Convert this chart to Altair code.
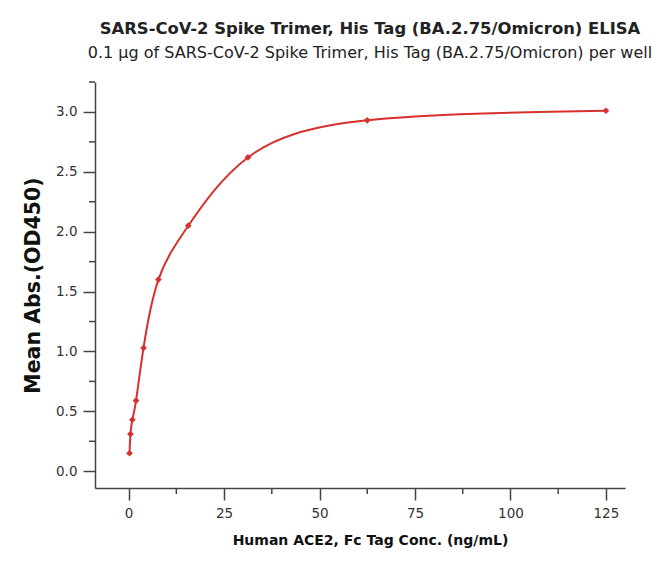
import altair as alt
import pandas as pd

conc = [0.24, 0.49, 0.98, 1.95, 3.91, 7.81, 15.63, 31.25, 62.5, 125]
od = [0.15, 0.31, 0.43, 0.59, 1.03, 1.60, 2.05, 2.62, 2.93, 3.01]
x_major = [0, 25, 50, 75, 100, 125]
x_minor = [12.5, 37.5, 62.5, 87.5, 112.5]
y_major = [0.0, 0.5, 1.0, 1.5, 2.0, 2.5, 3.0]
y_minor = [0.25, 0.75, 1.25, 1.75, 2.25, 2.75, 3.25]

W, H = 530, 406
df = pd.DataFrame({"conc": conc, "od": od})
xminor_df = pd.DataFrame({"v": x_minor})
yminor_df = pd.DataFrame({"v": y_minor})
red = "#d7312e"
FONT = "DejaVu Sans"
axis_col = "#444444"

x_scale = alt.Scale(domain=[-8.8, 130], nice=False, zero=False)
y_scale = alt.Scale(domain=[-0.14, 3.25], nice=False, zero=False)

x_enc = alt.X(
    "conc:Q",
    scale=x_scale,
    axis=alt.Axis(
        values=x_major,
        tickSize=12,
        title="Human ACE2, Fc Tag Conc. (ng/mL)",
        titleX=275,
        titlePadding=14,
        labelPadding=6,
        labelOverlap=False,
        labelFlush=False,
        grid=False,
    ),
)
y_enc = alt.Y(
    "od:Q",
    scale=y_scale,
    axis=alt.Axis(
        values=y_major,
        format=".1f",
        tickSize=12,
        title="Mean Abs.(OD450)",
        titlePadding=12,
        labelPadding=6,
        labelOverlap=False,
        labelFlush=False,
        grid=False,
    ),
)

line = alt.Chart(df).mark_line(interpolate="natural", color=red, strokeWidth=2).encode(x=x_enc, y=y_enc)
pts = alt.Chart(df).mark_point(shape="diamond", filled=True, size=45, color=red, opacity=1).encode(x="conc:Q", y="od:Q")

xminor = alt.Chart(xminor_df).mark_rule(color=axis_col, strokeWidth=1.5).encode(
    x=alt.X("v:Q", scale=x_scale), y=alt.value(H), y2=alt.value(H + 6)
)
yminor = alt.Chart(yminor_df).mark_rule(color=axis_col, strokeWidth=1.5).encode(
    y=alt.Y("v:Q", scale=y_scale), x=alt.value(0), x2=alt.value(-6)
)

chart = (
    alt.layer(line, pts, xminor, yminor)
    .properties(
        width=W,
        height=H,
        autosize=alt.AutoSizeParams(type="none"),
        padding={"left": 87, "top": 74, "right": 38, "bottom": 64},
        title=alt.TitleParams(
            text="SARS-CoV-2 Spike Trimer, His Tag (BA.2.75/Omicron) ELISA",
            subtitle="0.1 µg of SARS-CoV-2 Spike Trimer, His Tag (BA.2.75/Omicron) per well",
            font=FONT,
            fontSize=16.4,
            fontWeight="bold",
            color="#222222",
            subtitleFont=FONT,
            subtitleFontSize=16,
            subtitleColor="#222222",
            subtitlePadding=8,
            anchor="middle",
            dx=10,
            offset=20,
        ),
    )
    .configure_view(stroke=None)
    .configure_axis(
        domainColor=axis_col,
        domainWidth=1.5,
        tickColor=axis_col,
        tickWidth=1.5,
        labelFont=FONT,
        labelFontSize=13.5,
        labelColor="#333333",
        titleFont=FONT,
        titleFontWeight="bold",
        titleColor="#111111",
    )
    .configure_axisX(titleFontSize=14)
    .configure_axisY(titleFontSize=20.5)
)

chart.save("out.html", embed_options={"renderer": "svg", "actions": False})
